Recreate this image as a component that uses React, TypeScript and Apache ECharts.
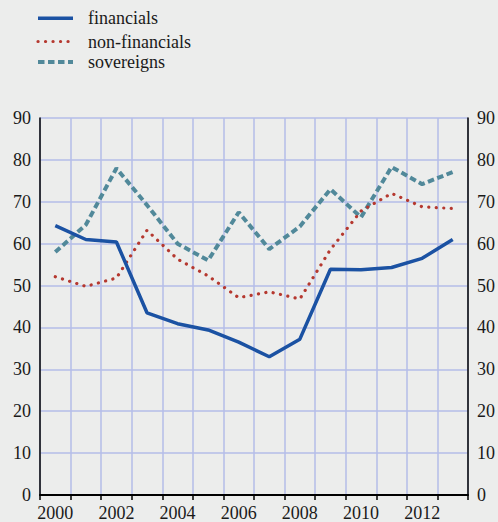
import React, { useEffect, useRef } from "react";
import * as echarts from "echarts";

const years = ["2000","2001","2002","2003","2004","2005","2006","2007","2008","2009","2010","2011","2012","2013"];
const financials = [64.3, 61.0, 60.4, 43.5, 40.9, 39.4, 36.5, 33.0, 37.2, 53.9, 53.8, 54.3, 56.5, 61.0];
const nonFinancials = [52.1, 49.8, 51.8, 63.2, 56.3, 52.3, 47.1, 48.5, 46.8, 58.6, 67.8, 72.0, 68.8, 68.4];
const sovereigns = [58.0, 64.5, 78.0, 69.2, 60.0, 56.0, 67.5, 58.7, 64.1, 73.0, 66.3, 78.3, 74.2, 77.1];
const seriesNames = ["financials", "non-financials", "sovereigns"];

const FONT = "'Liberation Serif', 'Times New Roman', serif";
const GRID = "#b4bce8";
const TXT = "#1a1a1a";
const BG = "#ecedec";
const COLORS = ["#1b52a3", "#b5382f", "#51899a"];
const DASHES: any[] = [null, [0.1, 7.4], [6.5, 3.5]];
const WIDTHS = [3.5, 3.2, 4];

export default function App() {
  const ref = useRef<HTMLDivElement>(null);
  useEffect(() => {
    if (!ref.current) return;
    const chart = echarts.init(ref.current, null, { renderer: "svg" });
    const yAxisBase = {
      type: "value" as const,
      min: 0,
      max: 90,
      interval: 10,
      axisLine: { show: true, lineStyle: { color: "#000", width: 1.5 } },
      axisTick: { show: false },
      axisLabel: { color: TXT, fontFamily: FONT, fontSize: 18, margin: 9 },
    };
    const legendY = [18.3, 41.5, 62];
    const legendEls: any[] = [];
    seriesNames.forEach((n, i) => {
      legendEls.push({
        type: "line",
        shape: { x1: 38, y1: legendY[i], x2: 73, y2: legendY[i] },
        style: {
          stroke: COLORS[i],
          lineWidth: WIDTHS[i],
          lineDash: DASHES[i] || undefined,
          lineCap: i === 1 ? "round" : "butt",
        },
      });
      legendEls.push({
        type: "text",
        x: 88,
        y: legendY[i],
        style: { text: n, font: `18px ${FONT}`, fill: TXT, verticalAlign: "middle", textAlign: "left" },
      });
    });
    chart.setOption({
      animation: false,
      backgroundColor: BG,
      textStyle: { fontFamily: FONT },
      graphic: legendEls,
      grid: { left: 40, right: 30, top: 118, bottom: 24, containLabel: false },
      xAxis: {
        type: "category",
        data: years,
        boundaryGap: true,
        axisLine: { show: true, lineStyle: { color: "#000", width: 2 } },
        axisTick: { show: true, interval: 0, alignWithLabel: false, length: 5, lineStyle: { color: "#000", width: 1.5 } },
        axisLabel: { interval: 1, color: TXT, fontFamily: FONT, fontSize: 18, margin: 9 },
        splitLine: { show: true, interval: 0, lineStyle: { color: GRID, width: 1.5 } },
      },
      yAxis: [
        { ...yAxisBase, position: "left", splitLine: { show: true, lineStyle: { color: GRID, width: 1.5 } } },
        { ...yAxisBase, position: "right", splitLine: { show: false } },
      ],
      series: [financials, nonFinancials, sovereigns].map((d, i) => ({
        name: seriesNames[i],
        type: "line",
        data: d,
        symbol: "none",
        color: COLORS[i],
        lineStyle: {
          color: COLORS[i],
          width: WIDTHS[i],
          type: DASHES[i] || "solid",
          cap: i === 1 ? "round" : "butt",
        },
        z: 5 - i,
      })),
    });
    return () => chart.dispose();
  }, []);
  return (
    <div style={{ position: "fixed", left: 0, top: 0, width: 498, height: 522, background: BG }}>
      <div ref={ref} style={{ width: 498, height: 522 }} />
    </div>
  );
}
